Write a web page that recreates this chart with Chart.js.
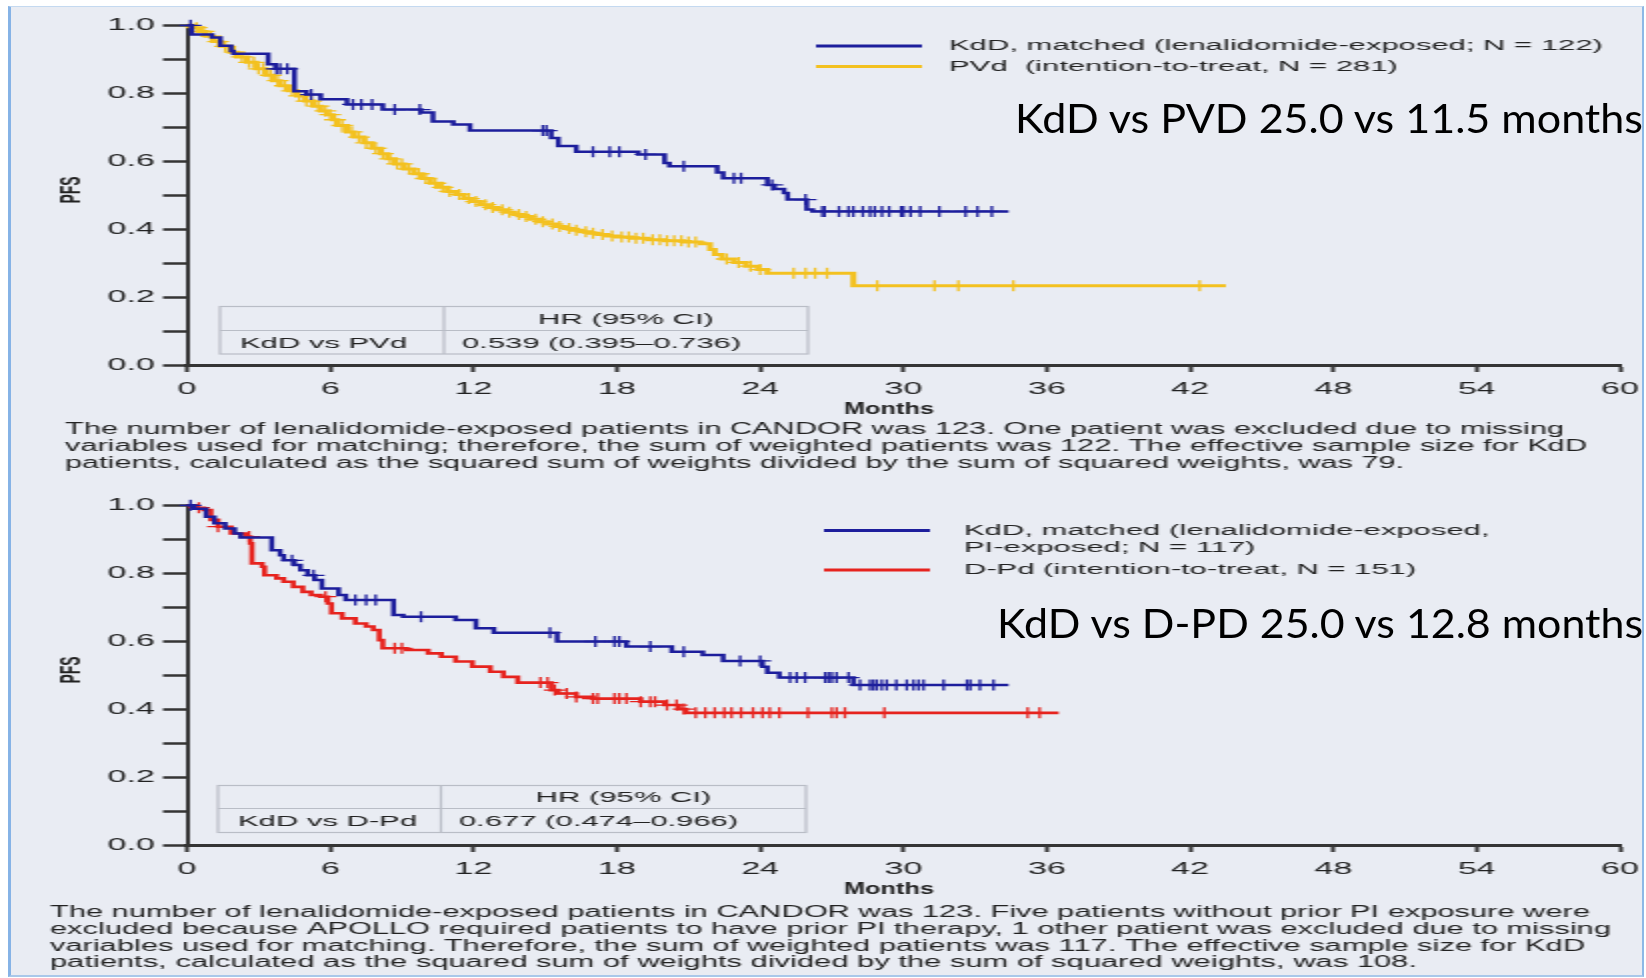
<!DOCTYPE html>
<html>
<head>
<meta charset="utf-8">
<script src="https://cdn.jsdelivr.net/npm/chart.js@4.4.1/dist/chart.umd.min.js"></script>
<style>
  html, body { margin: 0; padding: 0; background: #ffffff; width: 1646px; height: 978px; overflow: hidden; }
  #frame {
    position: absolute; left: 8px; top: 6px; width: 1636px; height: 971px; box-sizing: border-box;
    background: #e9ecf3;
    border-left: 3px solid #86b3e6; border-top: 1px solid #c4d9f0;
    border-right: 2px solid #8db8e6; border-bottom: 2px solid #a9c8ea;
  }
  /* the figure is drawn at half width and stretched 2x horizontally */
  #plots { position: absolute; left: 0; top: 0; width: 823px; height: 978px; transform: scaleX(2); transform-origin: 0 0; }
  #plots canvas { position: absolute; left: 0; }
  .note { position: absolute; left: 0; top: 0; font-family: Lato, 'Open Sans', sans-serif; font-size: 40px; line-height: 40px;
          color: #000; white-space: nowrap; transform-origin: 0 0; }
</style>
</head>
<body>
<div id="frame"></div>
<div id="plots">
  <canvas id="pfsPvd" width="823" height="480" style="top:0px;width:823px;height:480px"></canvas>
  <canvas id="pfsDpd" width="823" height="498" style="top:480px;width:823px;height:498px"></canvas>
</div>
<div class="note" id="notePvd">KdD vs PVD 25.0 vs 11.5 months</div>
<div class="note" id="noteDpd">KdD vs D-PD 25.0 vs 12.8 months</div>

<script>
// ---------- axis ticks ----------
const monthTicks = [0, 6, 12, 18, 24, 30, 36, 42, 48, 54, 60];
const pfsTicks = [0, 0.1, 0.2, 0.3, 0.4, 0.5, 0.6, 0.7, 0.8, 0.9, 1.0];
const pfsLabels = ['0.0', '', '0.2', '', '0.4', '', '0.6', '', '0.8', '', '1.0'];

// ---------- KdD (matched) vs PVd: step curves (months -> PFS) ----------
const kddPvdTime = [0, 0.2, 1.05, 1.4, 1.85, 1.95, 3.4, 3.7, 4.5, 5.0, 5.6, 6.7, 8.2, 9.8, 10.3, 11.15, 11.85,
  15.25, 15.55, 16.3, 18.9, 20.0, 20.2, 22.2, 22.45, 24.3, 24.6, 25.0, 25.15, 25.95, 26.2, 34.4];
const kddPvdSurv = [1.0, 0.973, 0.964, 0.94, 0.924, 0.916, 0.885, 0.872, 0.806, 0.796, 0.782, 0.767, 0.752, 0.743,
  0.717, 0.708, 0.690, 0.668, 0.645, 0.628, 0.620, 0.595, 0.585, 0.567, 0.550, 0.530, 0.518, 0.506, 0.487, 0.458,
  0.452, 0.452];
const kddPvdCensor = [0.15, 3.75, 3.9, 4.2, 5.2, 6.95, 7.3, 7.75, 8.7, 9.75, 14.9, 15.05, 17.0, 17.7, 18.1, 19.2, 20.8,
  22.9, 23.2, 24.5, 25.9, 26.6, 26.7, 27.3, 27.7, 27.9, 28.3, 28.6, 28.8, 29.1, 29.4, 29.9, 30.0, 30.3, 30.7,
  31.5, 32.6, 33.1, 33.7];

const pvdTime = [0, 0.3, 0.55, 0.8, 1.1, 1.4, 1.8, 2.1, 2.5, 2.9, 3.3, 3.6, 3.9, 4.25, 4.6, 4.95, 5.3, 5.6, 5.85,
  6.1, 6.3, 6.7, 7.0, 7.4, 7.75, 8.1, 8.4, 8.7, 9.1, 9.5, 9.85, 10.2, 10.55, 10.9, 11.25, 11.6, 11.95, 12.3,
  12.65, 13.0, 13.35, 13.7, 14.05, 14.4, 14.75, 15.1, 15.45, 15.8, 16.15, 16.5, 16.85, 17.2, 17.6, 18.0, 18.6,
  19.3, 20.0, 20.8, 21.5, 21.9, 22.1, 22.4, 22.9, 23.4, 23.9, 24.3, 27.9, 43.5];
const pvdSurv = [1.0, 0.993, 0.982, 0.968, 0.952, 0.938, 0.921, 0.907, 0.891, 0.872, 0.853, 0.837, 0.822, 0.807,
  0.792, 0.777, 0.762, 0.748, 0.737, 0.722, 0.705, 0.686, 0.671, 0.654, 0.638, 0.622, 0.607, 0.592, 0.577, 0.563,
  0.549, 0.535, 0.523, 0.511, 0.502, 0.490, 0.481, 0.472, 0.464, 0.457, 0.450, 0.443, 0.437, 0.429, 0.422, 0.415,
  0.408, 0.402, 0.397, 0.392, 0.388, 0.384, 0.380, 0.377, 0.373, 0.369, 0.366, 0.362, 0.357, 0.340, 0.325, 0.312,
  0.302, 0.291, 0.281, 0.270, 0.233, 0.233];
const pvdCensor = [0.4, 0.7, 1.0, 1.3, 1.6, 2.0, 2.3, 2.6, 2.8, 3.0, 3.2, 3.5, 3.8, 4.1, 4.4, 4.7, 5.0, 5.2, 5.5, 5.8,
  6.0, 6.2, 6.5, 6.9, 7.2, 7.5, 7.9, 8.2, 8.5, 8.8, 9.0, 9.3, 9.7, 10.0, 10.4, 10.7, 11.0, 11.4, 11.8, 12.1, 12.5,
  12.8, 13.2, 13.5, 13.9, 14.2, 14.6, 14.9, 15.3, 15.6, 16.0, 16.3, 16.7, 17.0, 17.4, 17.8, 18.2, 18.5, 18.8, 19.1,
  19.5, 19.8, 20.1, 20.4, 20.7, 21.0, 21.3, 22.6, 23.1, 23.6, 24.0, 25.4, 25.9, 26.3, 26.8, 28.9, 31.3, 32.3,
  34.6, 42.4];

// ---------- KdD (matched, PI-exposed) vs D-Pd ----------
const kddDpdTime = [0, 0.3, 0.8, 1.15, 1.6, 2.0, 2.25, 3.55, 3.9, 4.05, 4.5, 4.75, 5.05, 5.35, 5.65, 6.35, 6.65,
  8.65, 9.05, 11.25, 12.1, 12.85, 15.5, 18.4, 20.3, 21.6, 22.45, 24.1, 24.3, 24.8, 27.9, 34.4];
const kddDpdSurv = [1.0, 0.99, 0.966, 0.947, 0.932, 0.917, 0.905, 0.868, 0.853, 0.838, 0.824, 0.809, 0.794, 0.780,
  0.755, 0.736, 0.721, 0.677, 0.672, 0.662, 0.638, 0.625, 0.599, 0.584, 0.569, 0.559, 0.542, 0.525, 0.507, 0.493,
  0.471, 0.471];
const kddDpdCensor = [0.15, 4.4, 5.3, 7.05, 7.5, 7.9, 9.8, 15.2, 17.1, 17.9, 18.1, 19.4, 20.8, 23.16, 24.0, 25.25,
  25.53, 25.88, 26.72, 26.86, 27.0, 27.2, 27.7, 28.18, 28.6, 28.74, 28.88, 29.09, 29.3, 29.7, 30.14, 30.42, 30.63,
  30.84, 31.68, 32.66, 32.8, 33.2, 33.77];

const dpdTime = [0, 0.35, 0.7, 1.0, 1.3, 1.85, 2.45, 2.65, 2.72, 3.15, 3.25, 3.75, 4.05, 4.45, 4.85, 5.2, 5.6, 5.9,
  6.05, 6.5, 7.05, 7.5, 7.8, 8.05, 8.2, 9.2, 10.1, 10.65, 11.25, 11.95, 12.7, 13.25, 13.85, 15.25, 15.55, 16.3,
  17.0, 19.0, 20.0, 20.6, 20.9, 36.5];
const dpdSurv = [1.0, 0.993, 0.986, 0.957, 0.937, 0.917, 0.908, 0.888, 0.829, 0.819, 0.794, 0.785, 0.775, 0.760,
  0.745, 0.736, 0.731, 0.711, 0.682, 0.667, 0.652, 0.643, 0.633, 0.603, 0.579, 0.574, 0.564, 0.554, 0.540, 0.525,
  0.510, 0.495, 0.478, 0.456, 0.446, 0.436, 0.431, 0.422, 0.412, 0.400, 0.389, 0.389];
const dpdCensor = [0.5, 1.3, 2.6, 5.8, 8.7, 9.0, 14.8, 15.1, 15.4, 15.9, 16.3, 17.0, 17.2, 17.9, 18.1, 18.4, 19.0,
  19.4, 19.6, 20.1, 20.5, 20.8, 21.3, 21.7, 22.1, 22.5, 22.8, 23.2, 23.7, 24.1, 24.4, 24.8, 26.0, 27.0, 27.2,
  27.55, 29.2, 35.2, 35.7];

// ---------- styles ----------
const BLUE = '#1d1e9c', GOLD = '#f3c120', RED = '#e6231e', INK = '#222222', AXIS = '#353535', RULE = '#b9bdc6';
Chart.defaults.font.family = "'Liberation Sans', Arial, sans-serif";
Chart.defaults.color = INK;

function survAt(times, surv, t) {
  let s = surv[0];
  for (let i = 0; i < times.length; i++) { if (times[i] <= t) s = surv[i]; else break; }
  return s;
}
function kmLine(label, times, surv, color, width) {
  return { label, data: times.map((t, i) => ({ x: t, y: surv[i] })), stepped: 'before',
           borderColor: color, borderWidth: width, pointRadius: 0, fill: false, clip: false };
}
function censorMarks(label, censors, times, surv, color) {
  return { label, data: censors.map(t => ({ x: t, y: survAt(times, surv, t) })), showLine: false,
           pointStyle: 'cross', pointRadius: 5.5, borderColor: color, pointBorderColor: color,
           pointBorderWidth: 1.3, clip: false };
}

// text squeezed or stretched to a given width (canvas units)
function fitText(ctx, text, x, y, width, font, color, align) {
  ctx.save();
  ctx.font = font; ctx.fillStyle = color; ctx.textBaseline = 'middle'; ctx.textAlign = 'left';
  const w = ctx.measureText(text).width;
  const s = width ? width / w : 1;
  ctx.translate(x, y); ctx.scale(s, 1);
  const x0 = align === 'center' ? -w / 2 : 0;
  ctx.fillText(text, x0, 0);
  ctx.restore();
}

// legend, hazard-ratio table, axis titles and footnote of one panel
function panelDecor(spec) {
  return {
    id: 'panelDecor',
    afterDraw(chart) {
      const ctx = chart.ctx;
      const body = "15.5px 'Liberation Sans', Arial, sans-serif";
      // y title
      ctx.save();
      ctx.translate(spec.pfs[0], spec.pfs[1]); ctx.rotate(-Math.PI / 2);
      ctx.font = "bold 14px 'Liberation Sans', Arial, sans-serif"; ctx.fillStyle = INK;
      ctx.textAlign = 'center'; ctx.textBaseline = 'middle';
      ctx.fillText('PFS', 0, 0);
      ctx.restore();
      // x title
      fitText(ctx, 'Months', spec.months[0], spec.months[1], spec.months[2],
              "bold 17px 'Liberation Sans', Arial, sans-serif", INK, 'center');
      // legend
      for (const item of spec.legend) {
        ctx.save();
        ctx.strokeStyle = item.color; ctx.lineWidth = 3;
        ctx.beginPath(); ctx.moveTo(spec.legendLine[0], item.y); ctx.lineTo(spec.legendLine[1], item.y); ctx.stroke();
        ctx.restore();
        item.lines.forEach((ln, k) => {
          ctx.save(); ctx.font = body; ctx.fillStyle = INK; ctx.textBaseline = 'middle';
          ctx.fillText(ln, spec.legendText, item.y + k * item.step);
          ctx.restore();
        });
      }
      // hazard-ratio table
      const t = spec.table;
      ctx.save();
      ctx.strokeStyle = RULE; ctx.lineWidth = 1.2;
      ctx.strokeRect(t.x0, t.y0, t.x1 - t.x0, t.y1 - t.y0);
      ctx.beginPath();
      ctx.moveTo(t.x0, t.ym); ctx.lineTo(t.x1, t.ym);
      ctx.moveTo(t.xm, t.y0); ctx.lineTo(t.xm, t.y1);
      ctx.stroke();
      ctx.font = body; ctx.fillStyle = INK; ctx.textBaseline = 'middle';
      ctx.textAlign = 'center';
      ctx.fillText('HR (95% CI)', (t.xm + t.x1) / 2, (t.y0 + t.ym) / 2 + 1);
      ctx.textAlign = 'left';
      ctx.fillText(t.pair, t.x0 + 10, (t.ym + t.y1) / 2 + 1);
      ctx.fillText(t.hr, t.xm + 9, (t.ym + t.y1) / 2 + 1);
      ctx.restore();
      // footnote
      spec.caption.forEach((c) => {
        fitText(ctx, c[0], spec.captionX, c[1], c[2], "16px 'Liberation Sans', Arial, sans-serif", INK, 'left');
      });
    }
  };
}

function buildPanel(canvasId, datasets, bottomPad, spec) {
  return new Chart(document.getElementById(canvasId), {
    type: 'line',
    data: { datasets },
    options: {
      responsive: false, animation: false, devicePixelRatio: 1, events: [],
      layout: { padding: { left: 33.5, right: 13, top: 25.3, bottom: bottomPad } },
      plugins: { legend: { display: false }, tooltip: { enabled: false } },
      scales: {
        x: {
          type: 'linear', min: 0, max: 60,
          afterBuildTicks: s => { s.ticks = monthTicks.map(v => ({ value: v })); },
          afterFit: s => { s.height = 40; s.paddingLeft = 0; s.paddingRight = 0; },
          border: { display: true, color: AXIS, width: 3 },
          grid: { display: true, drawOnChartArea: false, drawTicks: true, tickLength: 7, tickWidth: 2, tickColor: AXIS },
          ticks: { font: { size: 17 }, color: INK, padding: 7, maxRotation: 0, autoSkip: false }
        },
        y: {
          type: 'linear', min: 0, max: 1,
          afterBuildTicks: s => { s.ticks = pfsTicks.map(v => ({ value: v })); },
          afterFit: s => { s.width = 60; s.paddingTop = 0; s.paddingBottom = 0; },
          border: { display: true, color: AXIS, width: 2 },
          grid: { display: true, drawOnChartArea: false, drawTicks: true, tickLength: 12, tickWidth: 2.5, tickColor: AXIS },
          ticks: { font: { size: 17 }, color: INK, padding: 4, autoSkip: false, callback: (v, i) => pfsLabels[i] }
        }
      }
    },
    plugins: [panelDecor(spec)]
  });
}

buildPanel('pfsPvd', [
  kmLine('KdD, matched (lenalidomide-exposed; N = 122)', kddPvdTime, kddPvdSurv, BLUE, 2.5),
  censorMarks('KdD censored', kddPvdCensor, kddPvdTime, kddPvdSurv, BLUE),
  kmLine('PVd (intention-to-treat, N = 281)', pvdTime, pvdSurv, GOLD, 3),
  censorMarks('PVd censored', pvdCensor, pvdTime, pvdSurv, GOLD)
], 75, {
  pfs: [36.5, 190], months: [444.5, 409, 45],
  legendLine: [408, 461], legendText: 474.5,
  legend: [
    { color: BLUE, y: 46, step: 0, lines: ['KdD, matched (lenalidomide-exposed; N = 122)'] },
    { color: GOLD, y: 66.5, step: 0, lines: ['PVd  (intention-to-treat, N = 281)'] }
  ],
  table: { x0: 110, x1: 404, xm: 222, y0: 306.5, ym: 330.5, y1: 354, pair: 'KdD vs PVd', hr: '0.539 (0.395\u20130.736)' },
  captionX: 32.5,
  caption: [
    ['The number of lenalidomide-exposed patients in CANDOR was 123. One patient was excluded due to missing', 430, 749.5],
    ['variables used for matching; therefore, the sum of weighted patients was 122. The effective sample size for KdD', 447, 761],
    ['patients, calculated as the squared sum of weights divided by the sum of squared weights, was 79.', 463.5, 669.5]
  ]
});

buildPanel('pfsDpd', [
  kmLine('KdD, matched (lenalidomide-exposed, PI-exposed; N = 117)', kddDpdTime, kddDpdSurv, BLUE, 2.5),
  censorMarks('KdD censored', kddDpdCensor, kddDpdTime, kddDpdSurv, BLUE),
  kmLine('D-Pd (intention-to-treat, N = 151)', dpdTime, dpdSurv, RED, 2.6),
  censorMarks('D-Pd censored', dpdCensor, dpdTime, dpdSurv, RED)
], 93, {
  pfs: [36.5, 190], months: [444.5, 409.5, 45],
  legendLine: [412, 465], legendText: 482,
  legend: [
    { color: BLUE, y: 50.5, step: 17.5, lines: ['KdD, matched (lenalidomide-exposed,', 'PI-exposed; N = 117)'] },
    { color: RED, y: 90, step: 0, lines: ['D-Pd (intention-to-treat, N = 151)'] }
  ],
  table: { x0: 109, x1: 403, xm: 220.5, y0: 305.5, ym: 328.5, y1: 352.5, pair: 'KdD vs D-Pd', hr: '0.677 (0.474\u20130.966)' },
  captionX: 25,
  caption: [
    ['The number of lenalidomide-exposed patients in CANDOR was 123. Five patients without prior PI exposure were', 433, 770],
    ['excluded because APOLLO required patients to have prior PI therapy, 1 other patient was excluded due to missing', 450, 780.5],
    ['variables used for matching. Therefore, the sum of weighted patients was 117. The effective sample size for KdD', 466.5, 767.5],
    ['patients, calculated as the squared sum of weights divided by the sum of squared weights, was 108.', 483, 683.5]
  ]
});

// median PFS notes: left edge, baseline and width in page pixels
function placeNote(id, left, baseline, width) {
  const el = document.getElementById(id);
  const m = document.createElement('canvas').getContext('2d');
  m.font = "40px Lato, 'Open Sans', sans-serif";
  const mt = m.measureText('KdD');
  const asc = mt.fontBoundingBoxAscent, desc = mt.fontBoundingBoxDescent;
  const base = (40 - (asc + desc)) / 2 + asc;
  const w = el.getBoundingClientRect().width;
  el.style.left = left + 'px';
  el.style.top = (baseline - base) + 'px';
  el.style.transform = 'scaleX(' + (width / w) + ')';
}
placeNote('notePvd', 1015, 133, 628);
placeNote('noteDpd', 997, 638, 646);
</script>
</body>
</html>
